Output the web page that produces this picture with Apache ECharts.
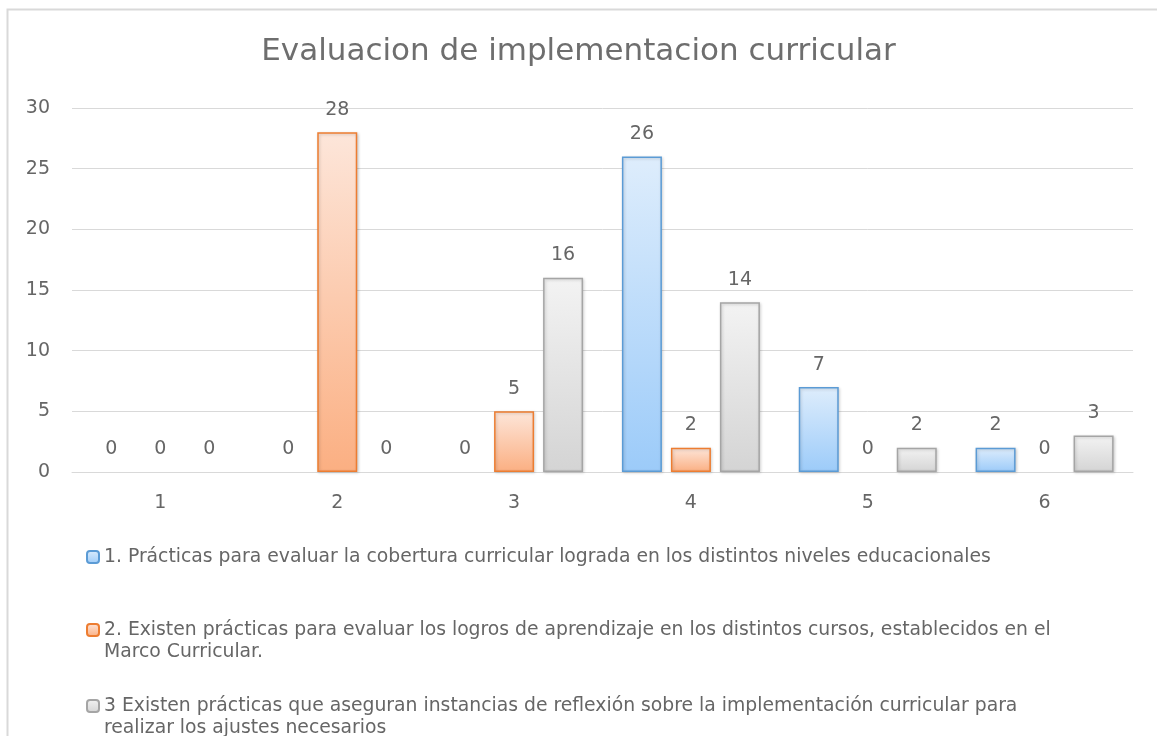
<!DOCTYPE html>
<html>
<head>
<meta charset="utf-8">
<script src="https://cdn.jsdelivr.net/npm/echarts@6/dist/echarts.min.js"></script>
<style>
  html, body { margin: 0; padding: 0; background: #fff; overflow: hidden; }
  #main { width: 1157px; height: 736px; }
</style>
</head>
<body>
<div id="main"></div>
<script>
  // datos
  var categorias = ['1', '2', '3', '4', '5', '6'];
  var serie1 = [0, 0, 0, 26, 7, 2];
  var serie2 = [0, 28, 5, 2, 0, 0];
  var serie3 = [0, 0, 16, 14, 2, 3];
  var yTicks = [0, 5, 10, 15, 20, 25, 30];
  var nombres = [
    '1. Prácticas para evaluar la cobertura curricular lograda en los distintos niveles educacionales',
    '2. Existen prácticas para evaluar los logros de aprendizaje en los distintos cursos, establecidos en el Marco Curricular.',
    '3 Existen prácticas que aseguran instancias de reflexión sobre la implementación curricular para realizar los ajustes necesarios'
  ];
  // lineas de la leyenda (como en el original)
  var leyenda = [
    ['1. Prácticas para evaluar la cobertura curricular lograda en los distintos niveles educacionales'],
    ['2. Existen prácticas para evaluar los logros de aprendizaje en los distintos cursos, establecidos en el', 'Marco Curricular.'],
    ['3 Existen prácticas que aseguran instancias de reflexión sobre la implementación curricular para', 'realizar los ajustes necesarios']
  ];

  var fuente = '"DejaVu Sans", sans-serif';
  var gris = '#666666';

  var estilos = [
    { top: '#deedfc', bottom: '#9ccbf9', border: '#5b9bd5' },
    { top: '#fde6da', bottom: '#fbaf82', border: '#ed7d31' },
    { top: '#f3f3f3', bottom: '#d4d4d4', border: '#a5a5a5' }
  ];

  var myChart = echarts.init(document.getElementById('main'));

  function serieBarra(nombre, datos, e) {
    return {
      name: nombre,
      type: 'bar',
      // las barras en cero no se dibujan, solo su etiqueta
      data: datos.map(function (v) {
        if (v !== 0) return v;
        return {
          value: v,
          itemStyle: { color: 'rgba(0,0,0,0)', borderWidth: 0, shadowBlur: 0, shadowOffsetX: 0, shadowOffsetY: 0 }
        };
      }),
      barWidth: 40,
      barGap: '22.5%',
      itemStyle: {
        color: new echarts.graphic.LinearGradient(0, 0, 0, 1, [
          { offset: 0, color: e.top },
          { offset: 1, color: e.bottom }
        ]),
        borderColor: e.border,
        borderWidth: 1.5,
        shadowColor: 'rgba(0,0,0,0.18)',
        shadowBlur: 3,
        shadowOffsetX: 1,
        shadowOffsetY: 1
      },
      label: {
        show: true,
        position: 'top',
        distance: 13,
        color: gris,
        fontFamily: fuente,
        fontSize: 19
      }
    };
  }

  var topsLeyenda = [546, 597, 673];

  var option = {
    backgroundColor: '#fff',
    animation: false,
    title: {
      text: 'Evaluacion de implementacion curricular',
      left: 'center',
      top: 31,
      textStyle: {
        color: '#6e6e6e',
        fontFamily: fuente,
        fontWeight: 'normal',
        fontSize: 31
      }
    },
    // marco del grafico: solo se ven el borde izquierdo y el superior
    graphic: [{
      type: 'polyline',
      shape: { points: [[7.5, 800], [7.5, 9.5], [1300, 9.5]] },
      style: { fill: null, stroke: '#d9d9d9', lineWidth: 2 },
      silent: true
    }],
    legend: nombres.map(function (n, i) {
      return {
        data: [n],
        orient: 'vertical',
        left: 86,
        top: topsLeyenda[i],
        padding: 0,
        itemWidth: 12,
        itemHeight: 12,
        itemGap: 0,
        // linea vacia delante para que el icono quede a la altura de la primera linea
        formatter: function () {
          var l = leyenda[i];
          return l.length > 1 ? '\n' + l.join('\n') : l[0];
        },
        textStyle: {
          color: gris,
          fontFamily: fuente,
          fontSize: 18.8,
          lineHeight: 22
        }
      };
    }),
    grid: {
      left: 72,
      right: 24,
      top: 108,
      bottom: 264,
      containLabel: false
    },
    xAxis: {
      type: 'category',
      data: categorias,
      axisLine: { lineStyle: { color: '#d9d9d9', width: 1 } },
      axisTick: { show: false },
      axisLabel: {
        color: gris,
        fontFamily: fuente,
        fontSize: 19,
        margin: 22
      }
    },
    yAxis: {
      type: 'value',
      min: yTicks[0],
      max: yTicks[yTicks.length - 1],
      interval: yTicks[1] - yTicks[0],
      axisLine: { show: false },
      axisTick: { show: false },
      splitLine: { lineStyle: { color: '#d9d9d9', width: 1 } },
      axisLabel: {
        color: gris,
        fontFamily: fuente,
        fontSize: 19,
        margin: 22
      }
    },
    series: [
      serieBarra(nombres[0], serie1, estilos[0]),
      serieBarra(nombres[1], serie2, estilos[1]),
      serieBarra(nombres[2], serie3, estilos[2])
    ]
  };

  myChart.setOption(option);
</script>
</body>
</html>
